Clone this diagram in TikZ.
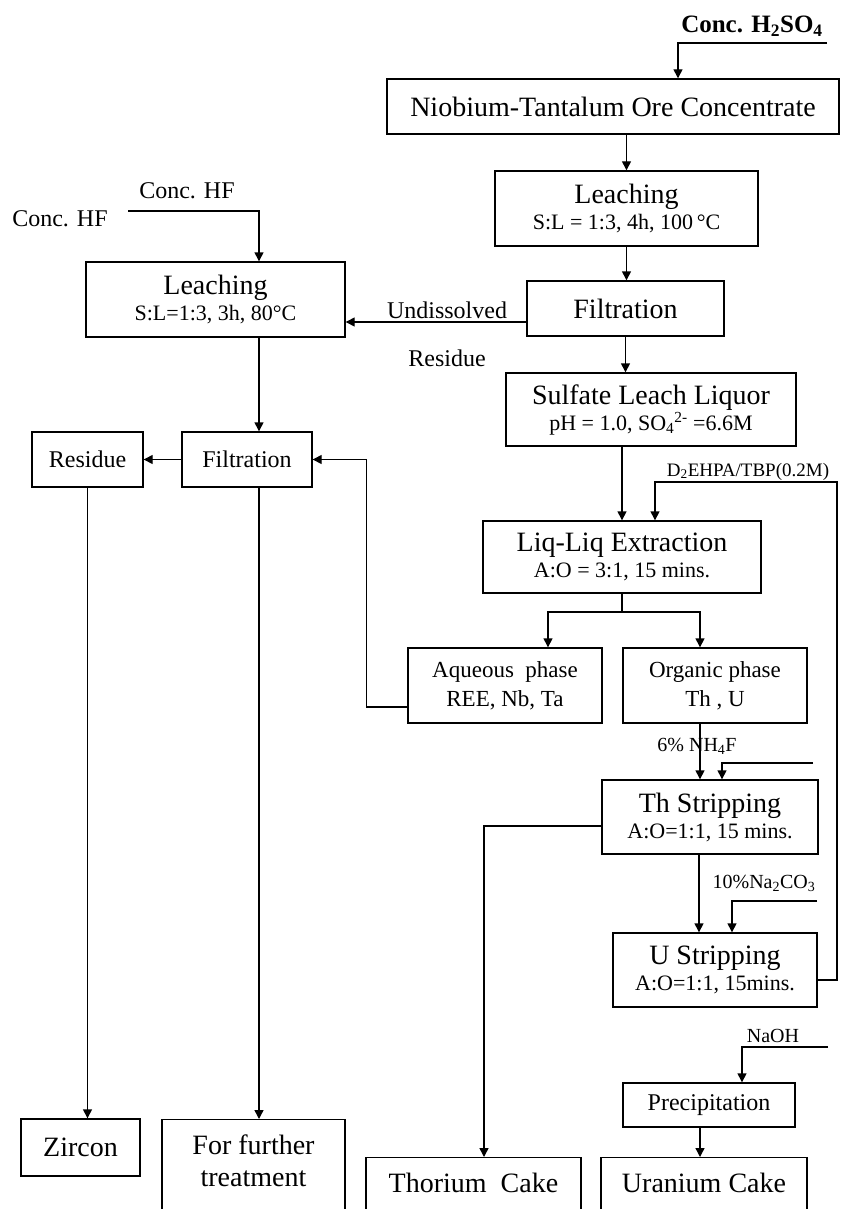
\documentclass[tikz,border=0pt]{standalone}
\usepackage{fontspec}
\setmainfont{Liberation Serif}
\usetikzlibrary{arrows.meta}
\newcommand{\tfont}{\fontsize{28}{26}\selectfont}
\newcommand{\sfont}{\fontsize{22}{26}\selectfont}
\newcommand{\mfont}{\fontsize{23}{29}\selectfont}
\newcommand{\lfont}{\fontsize{24}{26}\selectfont}
\newcommand{\nfont}{\fontsize{20}{22}\selectfont}
\newcommand{\cfont}{\fontsize{28}{32}\selectfont}

\begin{document}
\begin{tikzpicture}[x=1pt,y=-1pt,
    box/.style={draw, line width=1.4pt, inner sep=0pt, align=center, font=\tfont},
    cutbox/.style={box, anchor=north, inner ysep=10pt, text height=25pt, text depth=80pt},
    flow/.style={line width=1.4pt, -{Triangle[length=9pt,width=9pt]}},
    pipe/.style={line width=1.4pt},
    tag/.style={inner sep=0pt, anchor=base, font=\lfont}]
    \useasboundingbox (0,0) rectangle (840,1209);
    \clip (0,0) rectangle (840,1209);

    \node[box, minimum width=452pt, minimum height=55pt] (ore) at (613,106.5) {Niobium-Tantalum Ore Concentrate};
    \node[box, minimum width=263pt, minimum height=75pt] (leachA) at (626.5,208.5) {Leaching\\\sfont S:L = 1:3, 4h, 100\,°C};
    \node[box, minimum width=197pt, minimum height=55pt] (filtA) at (625.5,308.5) {Filtration};
    \node[box, minimum width=259pt, minimum height=75pt] (leachB) at (215.5,299.5) {Leaching\\\sfont S:L=1:3, 3h, 80°C};
    \node[box, minimum width=290pt, minimum height=73pt] (liquor) at (651,409.5) {Sulfate Leach Liquor\\\sfont pH = 1.0, SO\textsubscript{4}\textsuperscript{2-} =6.6M};
    \node[box, minimum width=130pt, minimum height=55pt, font=\lfont] (filtB) at (247,459.5) {Filtration};
    \node[box, minimum width=111pt, minimum height=55pt, font=\lfont] (residue) at (87.5,459.5) {Residue};
    \node[box, minimum width=278pt, minimum height=72pt] (extract) at (622,557) {Liq-Liq Extraction\\\sfont A:O = 3:1, 15 mins.};
    \node[box, minimum width=194pt, minimum height=75pt, font=\mfont] (aqueous) at (505,685.5) {Aqueous\ \ phase\\REE, Nb, Ta};
    \node[box, minimum width=184pt, minimum height=75pt, font=\mfont] (organic) at (715,685.5) {Organic phase\\Th , U};
    \node[box, minimum width=216pt, minimum height=74pt] (thstrip) at (710,817) {Th Stripping\\\sfont A:O=1:1, 15 mins.};
    \node[box, minimum width=204pt, minimum height=74pt] (ustrip) at (715,970) {U Stripping\\\sfont A:O=1:1, 15mins.};
    \node[box, minimum width=172pt, minimum height=44pt, font=\lfont] (precip) at (709,1105) {Precipitation};
    \node[box, minimum width=119pt, minimum height=57pt] (zircon) at (80.5,1147.5) {Zircon};
    \node[cutbox, minimum width=183pt, font=\cfont, text height=57pt] (further) at (253.5,1119) {For further\\treatment};
    \node[cutbox, minimum width=215pt] (thorium) at (473.5,1157) {Thorium\ \ Cake};
    \node[cutbox, minimum width=206pt] (uranium) at (704,1157) {Uranium Cake};

    \node[tag, font=\bfseries\fontsize{25}{25}\selectfont] (acid) at (752,33) {Conc. H\textsubscript{2}SO\textsubscript{4}};
    \node[tag] (hfA) at (187,198) {Conc. HF};
    \node[tag] (hfB) at (60,226) {Conc. HF};
    \node[tag] (undis) at (447,318) {Undissolved};
    \node[tag] (resid) at (447,366) {Residue};
    \node[tag, font=\fontsize{19}{21}\selectfont] (extr) at (748,476) {D\textsubscript{2}EHPA/TBP(0.2M)};
    \node[tag, font=\nfont] (nhf) at (697,751) {6\% NH\textsubscript{4}F};
    \node[tag, font=\nfont] (carb) at (764,888) {10\%Na\textsubscript{2}CO\textsubscript{3}};
    \node[tag, font=\nfont] (naoh) at (773,1042) {NaOH};

    \coordinate (acidin) at (827,43);
    \coordinate (hfin) at (128,211);
    \coordinate (split) at (622,612);
    \coordinate (nhfin) at (813,763);
    \coordinate (carbin) at (817,901);
    \coordinate (recycle) at (837,482);
    \coordinate (naohin) at (828,1047);

    \draw[flow] (acidin) -| ([xshift=65pt]ore.north);
    \draw[flow] (ore.south -| leachA.north) -- (leachA.north);
    \draw[flow] (leachA.south) -- (leachA.south |- filtA.north);
    \draw[flow] ([yshift=-13.5pt]filtA.west) -- ([yshift=-22.5pt]leachB.east);
    \draw[flow] (filtA.south) -- (filtA.south |- liquor.north);
    \draw[flow] (liquor.south -| extract.north) -- (extract.north);
    \draw[flow] (hfin) -| ([xshift=43.5pt]leachB.north);
    \draw[flow] ([xshift=43.5pt]leachB.south) -- ([xshift=43.5pt]leachB.south |- filtB.north);
    \draw[flow] (filtB.west) -- (residue.east);
    \draw[flow] (residue.south) -- (residue.south |- zircon.north);
    \draw[flow] ([xshift=12pt]filtB.south) -- ([xshift=12pt]filtB.south |- further.north);
    \draw[pipe] (extract.south) -- (split);
    \draw[flow] (split) -| ([xshift=43pt]aqueous.north);
    \draw[flow] (split) -| ([xshift=-15pt]organic.north);
    \draw[flow] ([yshift=-21.5pt]aqueous.west) -| ([xshift=54pt]filtB.east) -- (filtB.east);
    \draw[flow] ([xshift=-15pt]organic.south) -- ([xshift=-15pt]organic.south |- thstrip.north);
    \draw[flow] (nhfin) -| ([xshift=12pt]thstrip.north);
    \draw[flow] ([yshift=-9pt]thstrip.west) -| ([xshift=10.5pt]thorium.north);
    \draw[flow] ([xshift=-11pt]thstrip.south) -- ([xshift=-11pt]thstrip.south |- ustrip.north);
    \draw[flow] (carbin) -| ([xshift=17pt]ustrip.north);
    \draw[flow] ([yshift=-10pt]ustrip.east) -| (recycle) -| ([xshift=33pt]extract.north);
    \draw[flow] (naohin) -| ([xshift=33pt]precip.north);
    \draw[flow] ([xshift=-9pt]precip.south) -- ([xshift=-9pt]precip.south |- uranium.north);
\end{tikzpicture}
\end{document}
